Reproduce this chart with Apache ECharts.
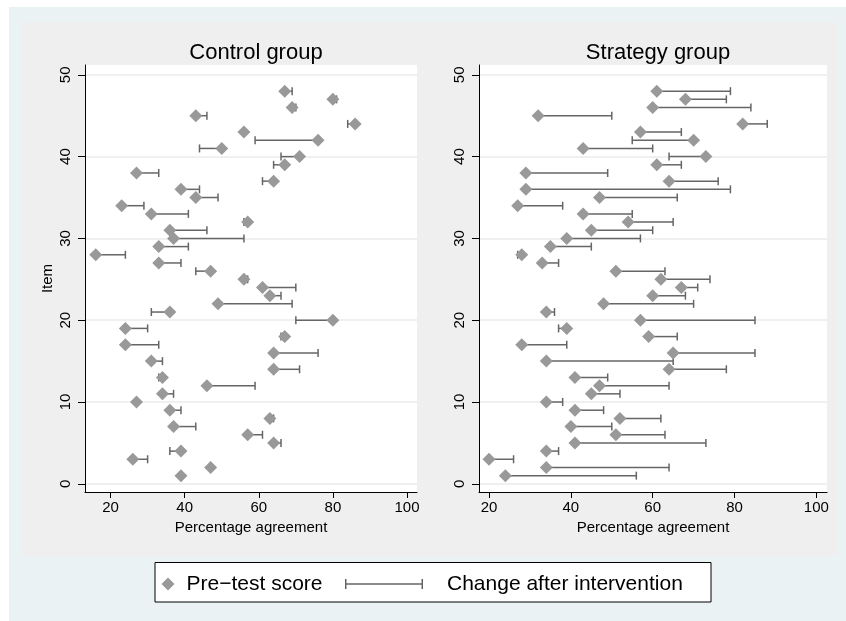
<!DOCTYPE html>
<html>
<head>
<meta charset="utf-8">
<script src="https://cdn.jsdelivr.net/npm/echarts@6/dist/echarts.min.js"></script>
<style>html,body{margin:0;padding:0;background:#fff}#c{width:846px;height:621px}</style>
</head>
<body>
<div id="c"></div>
<script>
// Items 1..48
const items = Array.from({length: 48}, (_, i) => i + 1);
const controlPre  = [39,47,26,39,64,57,37,63,36,27,34,46,34,64,31,64,24,67,24,80,36,49,63,61,56,47,33,16,33,37,36,57,31,23,43,39,64,27,67,71,50,76,56,86,43,69,80,67];
const controlPost = [39,47,30,36,66,61,43,64,39,27,37,59,33,71,34,76,33,66,30,70,31,69,66,70,57,43,39,24,41,56,46,56,41,29,49,44,61,33,64,66,44,59,56,84,46,70,81,69];
const strategyPre  = [24,34,20,34,41,51,40,52,41,34,45,47,41,64,34,65,28,59,39,57,34,48,60,67,62,51,33,28,35,39,45,54,43,27,47,29,64,29,61,73,43,70,57,82,32,60,68,61];
const strategyPost = [56,64,26,37,73,63,50,62,48,38,52,64,49,78,65,85,39,66,37,85,36,70,68,71,74,63,37,27,45,57,60,65,55,38,66,79,76,49,67,64,60,55,67,88,50,84,78,79];
const xTicks = [20, 40, 60, 80, 100];
const yTicks = [0, 10, 20, 30, 40, 50];
const panelTitles = ['Control group', 'Strategy group'];
const xTitle = 'Percentage agreement';
const yTitle = 'Item';
const preName = 'Pre\u2212test score';
const chgName = 'Change after intervention';

const FONT = '"Liberation Sans", Arial, Helvetica, sans-serif';
const LINE = '#666666';
const MARK = '#999999';

const chart = echarts.init(document.getElementById('c'), null, {renderer: 'canvas'});

function rangeData(pre, post) { return items.map((it, i) => [it, pre[i], post[i]]); }
function pointData(pre) { return items.map((it, i) => [pre[i], it]); }

function renderRange(params, api) {
  const y = api.value(0), a = api.value(1), b = api.value(2);
  const p1 = api.coord([a, y]), p2 = api.coord([b, y]);
  const h = 4;
  const st = {stroke: LINE, lineWidth: 1.5};
  return {type: 'group', children: [
    {type: 'line', shape: {x1: p1[0], y1: p1[1], x2: p2[0], y2: p2[1]}, style: st},
    {type: 'line', shape: {x1: p1[0], y1: p1[1] - h, x2: p1[0], y2: p1[1] + h}, style: st},
    {type: 'line', shape: {x1: p2[0], y1: p2[1] - h, x2: p2[0], y2: p2[1] + h}, style: st}
  ]};
}

function xAxis(idx, min, max) {
  return {
    type: 'value', gridIndex: idx, min: min, max: max,
    name: xTitle, nameLocation: 'middle', nameGap: 21,
    nameTextStyle: {fontFamily: FONT, fontSize: 15, color: '#000'},
    axisLine: {show: true, onZero: false, lineStyle: {color: '#000', width: 1}},
    axisTick: {show: true, length: 6, customValues: xTicks, lineStyle: {color: '#000'}},
    axisLabel: {customValues: xTicks, fontFamily: FONT, fontSize: 15, color: '#000', margin: 8},
    splitLine: {show: false}
  };
}
function yAxis(idx, showName) {
  return {
    type: 'value', gridIndex: idx, min: -1, max: 51.2,
    name: showName ? yTitle : '', nameLocation: 'middle', nameGap: 30, nameRotate: 90,
    nameTextStyle: {fontFamily: FONT, fontSize: 15, color: '#000'},
    axisLine: {show: true, onZero: false, lineStyle: {color: '#000', width: 1}},
    axisTick: {show: true, length: 7, customValues: yTicks, lineStyle: {color: '#000'}},
    axisLabel: {customValues: yTicks, rotate: 90, fontFamily: FONT, fontSize: 15, color: '#000', margin: 12},
    splitLine: {show: true, lineStyle: {color: '#ebebeb', width: 1.5}}
  };
}

const rangeIcon = 'path://M0,0h1.5v10h-1.5z M0,4.25h78v1.5h-78z M76.5,0h1.5v10h-1.5z';

chart.setOption({
  backgroundColor: '#ffffff',
  animation: false,
  graphic: [
    {type: 'rect', z: -10, shape: {x: 9, y: 7, width: 837, height: 614}, style: {fill: '#EAF2F3'}, silent: true},
    {type: 'rect', z: -9, shape: {x: 22, y: 22, width: 816, height: 534}, style: {fill: '#EFEFEF'}, silent: true},
    {type: 'rect', z: -8, shape: {x: 155, y: 562.5, width: 556, height: 39.5}, style: {fill: '#ffffff', stroke: '#000', lineWidth: 1}, silent: true}
  ],
  title: [
    {text: panelTitles[0], left: 251, top: 37, textAlign: 'center', textStyle: {fontFamily: FONT, fontSize: 22, fontWeight: 'normal', color: '#000'}},
    {text: panelTitles[1], left: 653, top: 37, textAlign: 'center', textStyle: {fontFamily: FONT, fontSize: 22, fontWeight: 'normal', color: '#000'}}
  ],
  grid: [
    {left: 85, top: 65, width: 332, height: 427, show: true, backgroundColor: '#ffffff', borderWidth: 0},
    {left: 479, top: 65, width: 348, height: 427, show: true, backgroundColor: '#ffffff', borderWidth: 0}
  ],
  xAxis: [xAxis(0, 13.1, 102.7), xAxis(1, 17.55, 102.6)],
  yAxis: [yAxis(0, true), yAxis(1, false)],
  legend: [
    {data: [{name: preName, icon: 'diamond'}], left: 161.5, top: 573.5, padding: 0,
     itemWidth: 13, itemHeight: 13,
     textStyle: {fontFamily: FONT, fontSize: 21, color: '#000', padding: [0, 0, 0, 7]}},
    {data: [{name: chgName, icon: rangeIcon}], left: 345, top: 573.5, padding: 0,
     itemWidth: 78, itemHeight: 10,
     textStyle: {fontFamily: FONT, fontSize: 21, color: '#000', padding: [0, 0, 0, 19]}}
  ],
  series: [
    {name: chgName, type: 'custom', xAxisIndex: 0, yAxisIndex: 0, renderItem: renderRange,
     itemStyle: {color: LINE}, encode: {x: [1, 2], y: 0}, data: rangeData(controlPre, controlPost), z: 2},
    {name: chgName, type: 'custom', xAxisIndex: 1, yAxisIndex: 1, renderItem: renderRange,
     itemStyle: {color: LINE}, encode: {x: [1, 2], y: 0}, data: rangeData(strategyPre, strategyPost), z: 2},
    {name: preName, type: 'scatter', xAxisIndex: 0, yAxisIndex: 0, symbol: 'diamond', symbolSize: 13,
     itemStyle: {color: MARK, opacity: 1}, data: pointData(controlPre), z: 3},
    {name: preName, type: 'scatter', xAxisIndex: 1, yAxisIndex: 1, symbol: 'diamond', symbolSize: 13,
     itemStyle: {color: MARK, opacity: 1}, data: pointData(strategyPre), z: 3}
  ]
});
</script>
</body>
</html>
